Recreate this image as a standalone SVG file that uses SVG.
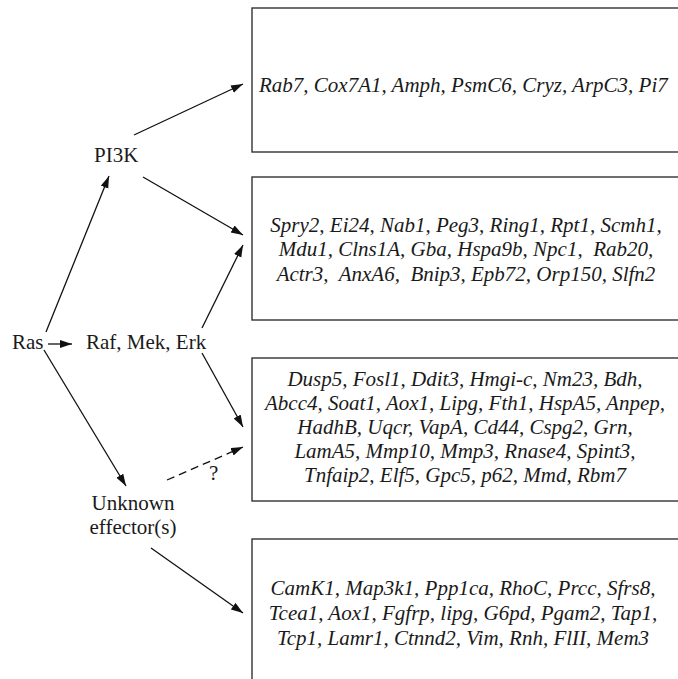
<svg xmlns="http://www.w3.org/2000/svg" width="678" height="679" viewBox="0 0 678 679">
<style>
.box{fill:none;stroke:#333;stroke-width:1.4}
.lbl{font-family:"Liberation Serif","Times New Roman",serif;font-size:21px;fill:#1a1a1a}
.gene{font-family:"Liberation Serif","Times New Roman",serif;font-size:21px;font-style:italic;fill:#1a1a1a;text-anchor:middle}
.edge{stroke:#111;stroke-width:1.3;fill:none}
.dash{stroke-dasharray:8,5}
</style>
<defs>
<marker id="ah" markerUnits="userSpaceOnUse" markerWidth="13" markerHeight="9" refX="12" refY="4" orient="auto">
<path d="M0,0 L12,4 L0,8 z" fill="#111"/>
</marker>
</defs>
<rect width="678" height="679" fill="#fff"/>
<g id="ras"><text class="lbl" x="12" y="349">Ras</text></g>
<g id="pi3k"><text class="lbl" x="94" y="162">PI3K</text></g>
<g id="raf"><text class="lbl" x="86" y="349">Raf, Mek, Erk</text></g>
<g id="unknown"><text class="lbl" x="133" y="510" text-anchor="middle">Unknown</text><text class="lbl" x="133" y="534" text-anchor="middle">effector(s)</text></g>
<g id="box1"><rect class="box" x="252" y="8" width="500" height="144"/>
<text class="gene" x="259" y="92" style="text-anchor:start">Rab7, Cox7A1, Amph, PsmC6, Cryz, ArpC3, Pi7</text></g>
<g id="box2"><rect class="box" x="252" y="177" width="500" height="143"/>
<text class="gene" x="466" y="232">Spry2, Ei24, Nab1, Peg3, Ring1, Rpt1, Scmh1,</text>
<text class="gene" x="466" y="256" xml:space="preserve">Mdu1, Clns1A, Gba, Hspa9b, Npc1,  Rab20,</text>
<text class="gene" x="466" y="281" xml:space="preserve">Actr3,  AnxA6,  Bnip3, Epb72, Orp150, Slfn2</text></g>
<g id="box3"><rect class="box" x="252" y="358" width="500" height="143"/>
<text class="gene" x="465" y="386">Dusp5, Fosl1, Ddit3, Hmgi-c, Nm23, Bdh,</text>
<text class="gene" x="465" y="410">Abcc4, Soat1, Aox1, Lipg, Fth1, HspA5, Anpep,</text>
<text class="gene" x="465" y="434">HadhB, Uqcr, VapA, Cd44, Cspg2, Grn,</text>
<text class="gene" x="465" y="458">LamA5, Mmp10, Mmp3, Rnase4, Spint3,</text>
<text class="gene" x="465" y="482">Tnfaip2, Elf5, Gpc5, p62, Mmd, Rbm7</text></g>
<g id="box4"><rect class="box" x="252" y="539" width="500" height="200"/>
<text class="gene" x="463" y="595">CamK1, Map3k1, Ppp1ca, RhoC, Prcc, Sfrs8,</text>
<text class="gene" x="463" y="620">Tcea1, Aox1, Fgfrp, lipg, G6pd, Pgam2, Tap1,</text>
<text class="gene" x="463" y="645">Tcp1, Lamr1, Ctnnd2, Vim, Rnh, FlII, Mem3</text></g>
<g id="connectors">
<line class="edge" x1="48" y1="344" x2="72" y2="344" marker-end="url(#ah)"/>
<line class="edge" x1="46" y1="332" x2="109" y2="176" marker-end="url(#ah)"/>
<line class="edge" x1="44" y1="350" x2="126" y2="486" marker-end="url(#ah)"/>
<line class="edge" x1="134" y1="135" x2="243" y2="84" marker-end="url(#ah)"/>
<line class="edge" x1="143" y1="177" x2="243" y2="235" marker-end="url(#ah)"/>
<line class="edge" x1="202" y1="328" x2="243" y2="245" marker-end="url(#ah)"/>
<line class="edge" x1="202" y1="353" x2="243" y2="427" marker-end="url(#ah)"/>
<line class="edge dash" x1="167" y1="480" x2="243" y2="447" marker-end="url(#ah)"/>
<line class="edge" x1="151" y1="548" x2="243" y2="613" marker-end="url(#ah)"/>
<text class="lbl" x="209" y="480">?</text>
</g>
</svg>
